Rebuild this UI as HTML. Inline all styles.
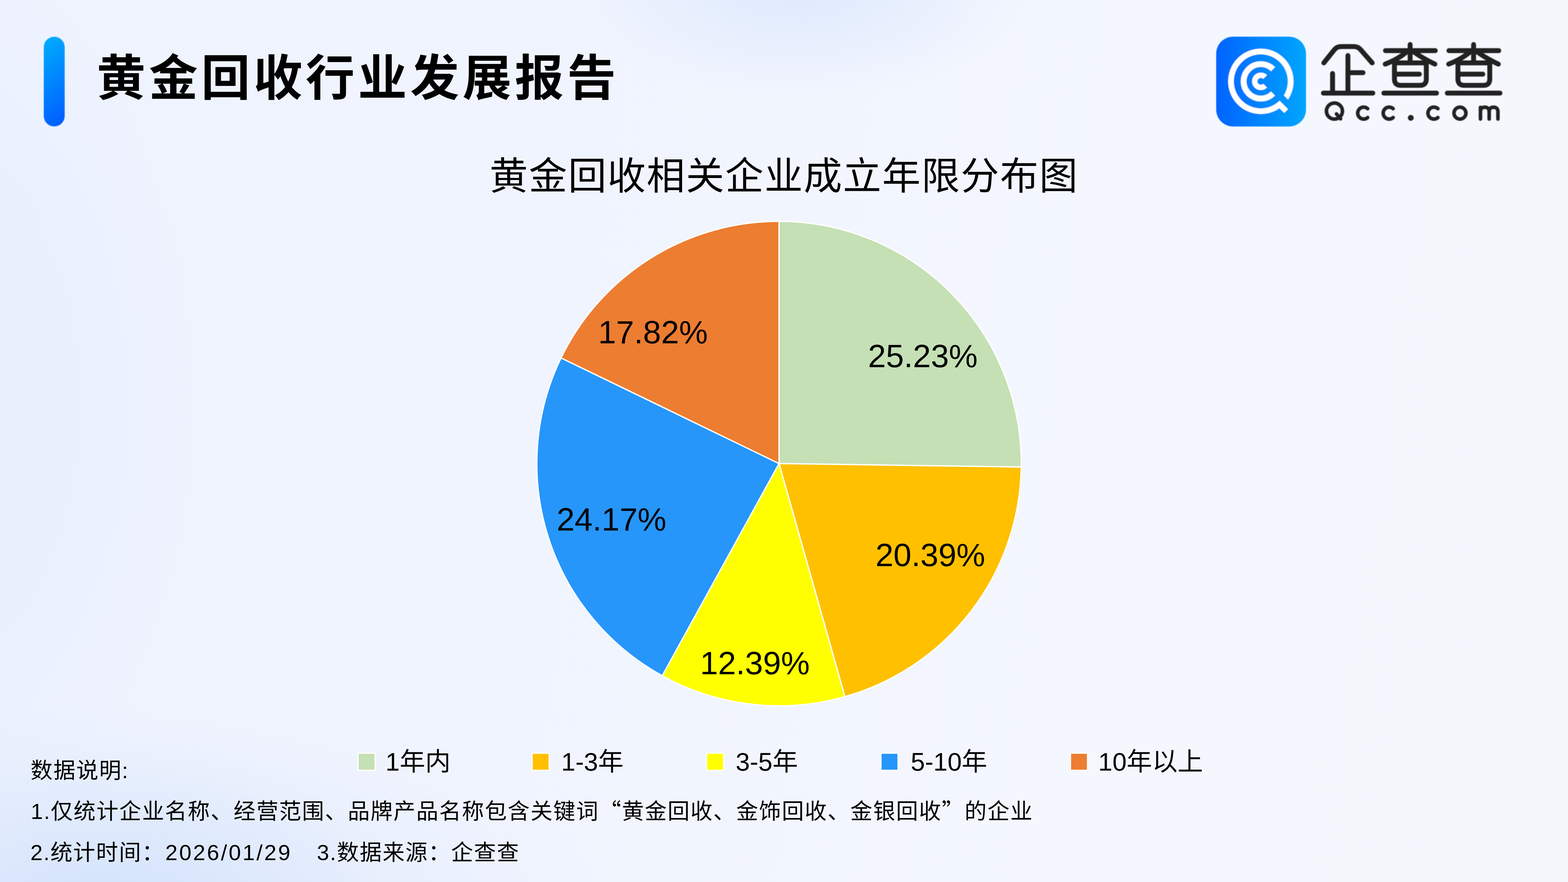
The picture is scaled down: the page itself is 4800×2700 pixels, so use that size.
<!DOCTYPE html>
<html lang="zh-CN"><head><meta charset="utf-8"><title>黄金回收行业发展报告</title>
<style>
html,body{margin:0;padding:0}
body{width:4800px;height:2700px;overflow:hidden;position:relative;font-family:"Liberation Sans",sans-serif;
background:
radial-gradient(ellipse 900px 480px at 330px 2760px, rgba(200,220,250,.5), rgba(200,220,250,0) 100%),
radial-gradient(ellipse 1600px 700px at 300px 2850px, rgba(212,227,251,.6), rgba(212,227,251,0) 100%),
radial-gradient(ellipse 720px 340px at 2450px -40px, rgba(221,233,253,.95), rgba(221,233,253,0) 100%),
radial-gradient(ellipse 1000px 1500px at -300px 1250px, rgba(226,236,253,.75), rgba(226,236,253,0) 100%),
linear-gradient(97deg,#EEF3FE 0%,#F0F4FE 35%,#F4F7FE 70%,#F5F7FD 100%);}
svg{position:absolute;left:0;top:0;display:block}
svg text{font-family:"Liberation Sans","Noto Sans CJK SC",sans-serif;fill:#000}
.t{position:absolute;margin:0;padding:0;color:transparent;white-space:pre;line-height:1;font-weight:normal;-webkit-user-select:none;user-select:none;pointer-events:none}
</style></head>
<body>
<h1 class="t" style="left:303px;top:150px;font-size:160px;font-weight:bold;letter-spacing:0">黄金回收行业发展报告</h1>
<h2 class="t" style="left:1497px;top:470px;font-size:120px;">黄金回收相关企业成立年限分布图</h2>
<span class="t" style="left:2659px;top:1045px;font-size:100px;">25.23%</span>
<span class="t" style="left:2682px;top:1655px;font-size:100px;">20.39%</span>
<span class="t" style="left:2145px;top:1985px;font-size:100px;">12.39%</span>
<span class="t" style="left:1705px;top:1545px;font-size:100px;">24.17%</span>
<span class="t" style="left:1833px;top:972px;font-size:100px;">17.82%</span>
<span class="t" style="left:1182px;top:2290px;font-size:80px;">1年内</span>
<span class="t" style="left:1714px;top:2290px;font-size:80px;">1-3年</span>
<span class="t" style="left:2246px;top:2290px;font-size:80px;">3-5年</span>
<span class="t" style="left:2781px;top:2290px;font-size:80px;">5-10年</span>
<span class="t" style="left:3362px;top:2290px;font-size:80px;">10年以上</span>
<p class="t" style="left:96px;top:2318px;font-size:70px;">数据说明:</p>
<p class="t" style="left:96px;top:2443px;font-size:70px;">1.仅统计企业名称、经营范围、品牌产品名称包含关键词“黄金回收、金饰回收、金银回收”的企业</p>
<p class="t" style="left:96px;top:2568px;font-size:70px;">2.统计时间：2026/01/29    3.数据来源：企查查</p>
<span class="t" style="left:4040px;top:130px;font-size:150px;">企查查</span>
<span class="t" style="left:4050px;top:300px;font-size:70px;letter-spacing:30px">Qcc.com</span>
<svg width="4800" height="2700" viewBox="0 0 4800 2700">
<defs><linearGradient id="gbar" x1="0.42" y1="0" x2="0.58" y2="1"><stop offset="0" stop-color="#00A9FD"/><stop offset="0.55" stop-color="#0080FF"/><stop offset="1" stop-color="#005FFF"/></linearGradient><filter id="soft3" x="-20%" y="-5%" width="140%" height="110%"><feGaussianBlur stdDeviation="1"/></filter><linearGradient id="glogo" x1="0" y1="0" x2="1" y2="0"><stop offset="0" stop-color="#0062FF"/><stop offset="0.5" stop-color="#0085FF"/><stop offset="1" stop-color="#00A6FF"/></linearGradient><filter id="soft" x="-5%" y="-5%" width="110%" height="110%"><feGaussianBlur stdDeviation="1.1"/></filter><filter id="soft2" x="-5%" y="-20%" width="110%" height="140%"><feGaussianBlur stdDeviation="1.2"/></filter><mask id="mq" maskUnits="userSpaceOnUse" x="3700" y="90" width="330" height="330"><rect x="3700" y="90" width="330" height="330" fill="#fff"/><path d="M3902 279.5L3972 349.5" stroke="#000" stroke-width="22.3" fill="none"/></mask></defs>
<rect x="134" y="112.5" width="64" height="274.5" rx="32" ry="32" fill="url(#gbar)" filter="url(#soft3)"/>
<text x="295.85" y="291.5" font-size="150" font-weight="bold" letter-spacing="10">黄金回收行业发展报告</text>
<text x="1498.55" y="579.5" font-size="117.5" letter-spacing="2.7">黄金回收相关企业成立年限分布图</text>
<g stroke="#fff" stroke-width="4" stroke-linejoin="round">
<path d="M2384.8 1419L2384.8 677.5A741.5 741.5 0 0 1 3126.22 1429.72Z" fill="#C5E0B4"/>
<path d="M2384.8 1419L3126.22 1429.72A741.5 741.5 0 0 1 2586.3 2132.6Z" fill="#FFC000"/>
<path d="M2384.8 1419L2586.3 2132.6A741.5 741.5 0 0 1 2027.17 2068.56Z" fill="#FFFF00"/>
<path d="M2384.8 1419L2027.17 2068.56A741.5 741.5 0 0 1 1717.48 1095.72Z" fill="#2696FB"/>
<path d="M2384.8 1419L1717.48 1095.72A741.5 741.5 0 0 1 2384.8 677.5Z" fill="#ED7D31"/>
</g>
<text x="2657" y="1123.8" font-size="99">25.23%</text>
<text x="1831" y="1051" font-size="99">17.82%</text>
<text x="1704" y="1623.5" font-size="99">24.17%</text>
<text x="2143" y="2063.5" font-size="99">12.39%</text>
<text x="2680" y="1732.5" font-size="99">20.39%</text>
<rect x="1094.4" y="2303.8" width="55.8" height="56.2" fill="#fff"/>
<rect x="1098" y="2307.5" width="48.6" height="48.8" fill="#C5E0B4"/>
<rect x="1627.2" y="2303.8" width="55.8" height="56.2" fill="#fff"/>
<rect x="1630.8" y="2307.5" width="48.6" height="48.8" fill="#FFC000"/>
<rect x="2161.3" y="2303.8" width="55.8" height="56.2" fill="#fff"/>
<rect x="2164.9" y="2307.5" width="48.6" height="48.8" fill="#FFFF00"/>
<rect x="2695.1" y="2303.8" width="55.8" height="56.2" fill="#fff"/>
<rect x="2698.7" y="2307.5" width="48.6" height="48.8" fill="#2696FB"/>
<rect x="3275.2" y="2303.8" width="55.8" height="56.2" fill="#fff"/>
<rect x="3278.8" y="2307.5" width="48.6" height="48.8" fill="#ED7D31"/>
<text x="1180" y="2358.8" font-size="78">1年内</text>
<text x="1718" y="2358.8" font-size="78">1-3年</text>
<text x="2252" y="2358.8" font-size="78">3-5年</text>
<text x="2788" y="2358.8" font-size="78">5-10年</text>
<text x="3362" y="2358.8" font-size="78">10年以上</text>
<text x="93.62" y="2381.5" font-size="67.5" letter-spacing="2.44">数据说明:</text>
<text x="94" y="2507" font-size="67.5" letter-spacing="2.44">1.仅统计企业名称、经营范围、品牌产品名称包含关键词<tspan font-family="'Noto Sans CJK SC',sans-serif">“</tspan>黄金回收、金饰回收、金银回收<tspan font-family="'Noto Sans CJK SC',sans-serif">”</tspan>的企业</text>
<text y="2632.5" font-size="67.5" letter-spacing="2.44"><tspan x="93">2.统计时间：</tspan><tspan x="506" letter-spacing="5">2026/01/29</tspan><tspan x="970">3.数据来源：企查查</tspan></text>
<g filter="url(#soft)">
<rect x="3723" y="112.3" width="275" height="275" rx="52" ry="52" fill="url(#glogo)"/>
<g fill="none" stroke="#fff">
<circle cx="3859.7" cy="249" r="91.4" stroke-width="17.4" mask="url(#mq)"/>
<path d="M3911.5 314.3L3937.2 340" stroke-width="16.4"/>
<path d="M3896.96 286.26A52.7 52.7 0 1 1 3896.96 211.74" stroke-width="17.6"/>
<path d="M3872.92 262.22A18.7 18.7 0 1 1 3872.92 235.78" stroke-width="16.2"/>
</g></g>
<g filter="url(#soft2)"><g fill="none" stroke="#222" stroke-width="15" stroke-linecap="round" stroke-linejoin="round">
<path d="M4052.5 192.5 L4085.5 151.25 Q4093 142.5 4106.25 142.5 L4143.75 142.5 Q4157 142.5 4164.5 151.25 L4200.5 192.5M4126.25 170 L4126.25 285M4079.25 225 L4079.25 285M4126.25 222.5 L4172.5 222.5M4051.25 285 L4202.5 285M4316.75 136.25 L4316.75 191.25M4241.25 155 L4393.75 155M4307.5 157.5 Q4280 181.25 4240.5 196.25M4326.25 157.5 Q4355 178.75 4392.5 196.25M4276.25 192.5 L4358.75 192.5 Q4366.25 192.5 4366.25 200 L4366.25 241.75 Q4366.25 261.25 4346.75 261.25 L4288.25 261.25 Q4268.75 261.25 4268.75 241.75 L4268.75 200 Q4268.75 192.5 4276.25 192.5 ZM4268.75 227 L4345 227M4236.25 285 L4397.5 285M4511 136.25 L4511 191.25M4435.5 155 L4588 155M4501.75 157.5 Q4474.25 181.25 4434.75 196.25M4520.5 157.5 Q4549.25 178.75 4586.75 196.25M4470.5 192.5 L4553 192.5 Q4560.5 192.5 4560.5 200 L4560.5 241.75 Q4560.5 261.25 4541 261.25 L4482.5 261.25 Q4463 261.25 4463 241.75 L4463 200 Q4463 192.5 4470.5 192.5 ZM4463 227 L4539.25 227M4430.5 285 L4591.75 285"/>
</g>
<g fill="none" stroke="#222" stroke-width="11" stroke-linecap="round" stroke-linejoin="round">
<circle cx="4085" cy="340" r="24.5"/>
<circle cx="4469.25" cy="346.25" r="18.25"/>
<path d="M4091.25 348.75 L4103.75 363.75M4186.71 359.81A18.25 18.25 0 1 1 4186.71 332.69M4264.71 359.81A18.25 18.25 0 1 1 4264.71 332.69M4401.71 359.81A18.25 18.25 0 1 1 4401.71 332.69M4532 328.75 L4532 364.25M4532 342.5 Q4532 328.25 4545.25 328.25 Q4558.75 328.25 4558.75 342.5 L4558.75 364.25M4558.75 342.5 Q4558.75 328.25 4572 328.25 Q4585.5 328.25 4585.5 342.5 L4585.5 364.25"/>
</g>
<circle cx="4318.75" cy="360.75" r="9" fill="#222"/>
</g>
</svg>
</body></html>
